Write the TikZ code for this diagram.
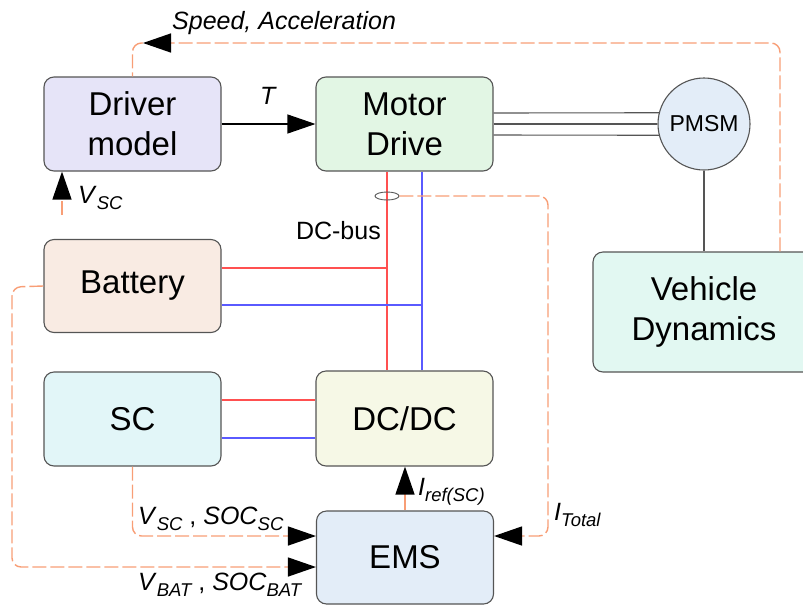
\documentclass[tikz,border=0pt]{standalone}
\usepackage{fontspec}
\setmainfont{Liberation Sans}
\usetikzlibrary{arrows.meta,shapes.geometric}

\definecolor{drvfill}{RGB}{230,228,248}
\definecolor{motfill}{RGB}{226,246,228}
\definecolor{batfill}{RGB}{249,235,227}
\definecolor{scfill}{RGB}{226,246,248}
\definecolor{dcfill}{RGB}{246,248,230}
\definecolor{emsfill}{RGB}{227,237,248}
\definecolor{vehfill}{RGB}{226,248,242}
\definecolor{edgegray}{RGB}{85,85,85}
\definecolor{sigorange}{RGB}{248,158,118}
\definecolor{busred}{RGB}{255,80,80}
\definecolor{busblue}{RGB}{90,90,255}

\newcommand{\qsub}[2]{\textit{#1}\raisebox{-6pt}{\fontsize{18.5}{18.5}\selectfont\itshape #2}}

\begin{document}
\begin{tikzpicture}[x=1pt,y=-1pt,
  block/.style={draw=edgegray, line width=1.1pt, rounded corners=10pt, align=center, minimum width=177pt, minimum height=94pt, font=\fontsize{33}{40}\selectfont},
  lbl/.style={inner sep=0pt, font=\fontsize{25}{29}\selectfont},
  sig/.style={draw=sigorange, line width=1.4pt, dash pattern=on 14pt off 4pt, rounded corners=9pt},
  bigtip/.style={-{Triangle[length=28pt,width=19pt,color=black]}},
  wire/.style={draw=edgegray, line width=1.1pt},
  pline/.style={draw=busred, line width=1.1pt},
  nline/.style={draw=busblue, line width=1.1pt}]
\useasboundingbox (0,0) rectangle (803,606);
\node[block, fill=drvfill] (drv) at (132.5,124) {Driver\\ model};
\node[block, fill=motfill] (mot) at (404.5,124) {Motor\\ Drive};
\node[block, fill=batfill, minimum height=93pt] (bat) at (132.5,286) {Battery};
\node[block, fill=scfill] (sc) at (132.5,419) {SC};
\node[block, fill=dcfill, minimum height=95pt] (dcdc) at (404.5,418.5) {DC/DC};
\node[block, fill=emsfill, minimum height=93pt] (ems) at (405,557.5) {EMS};
\node[circle, draw=edgegray, line width=1.1pt, fill=emsfill, minimum size=92pt, inner sep=0pt, font=\fontsize{23}{26}\selectfont] (pmsm) at (704,124) {PMSM};
\node[block, fill=vehfill, minimum width=222pt, minimum height=120pt] (veh) at (704,312) {Vehicle\\ Dynamics};

\coordinate (busr) at ([xshift=-17.5pt]mot.south);
\coordinate (busb) at ([xshift=17.5pt]mot.south);
\coordinate (spd) at (143,43);
\coordinate (itop) at (548,196);
\coordinate (bleft) at (12,287);
\coordinate (vin) at (62,215);

\draw[bigtip, line width=1.1pt] (drv) -- (mot) node[lbl, midway, above=19pt] (tlbl) {\textit{T}};
\foreach \a/\d in {166/11,180/0,194/-11}
  \draw[wire] ([yshift=\d pt]mot.east) -- (pmsm.\a);
\draw[wire] (pmsm) -- (veh);

\draw[pline] (busr) -- (busr |- dcdc.north);
\draw[nline] (busb) -- (busb |- dcdc.north);
\draw[pline] ([yshift=18pt]bat.east) -- ([yshift=18pt]bat.east -| busr);
\draw[nline] ([yshift=-19pt]bat.east) -- ([yshift=-19pt]bat.east -| busb);
\draw[pline] ([yshift=19pt]sc.east) -- ([yshift=19pt]sc.east -| dcdc.west);
\draw[nline] ([yshift=-19pt]sc.east) -- ([yshift=-19pt]sc.east -| dcdc.west);
\node[ellipse, draw=edgegray, line width=0.9pt, minimum width=24pt, minimum height=8pt, inner sep=0pt] (sens) at (387,196) {};
\node[lbl, anchor=east] (buslbl) at (381,231) {DC-bus};

\draw[sig, bigtip] ([xshift=76pt]veh.north) |- (spd);
\draw[sig] (spd) -| (drv.north);
\node[lbl, anchor=south west] (spdlbl) at (172,35) {\itshape Speed, Acceleration};
\draw[sig, bigtip] (vin) -- (vin |- drv.south);
\node[lbl, anchor=base west] (vinlbl) at (78,203) {\qsub{V}{SC}};

\draw[sig, bigtip] (sens.east) -- (itop) |- ([yshift=21.5pt]ems.east);
\node[lbl, anchor=base west] (itlbl) at (554,520) {\qsub{I}{Total}};
\draw[sig, bigtip] (sc.south) |- ([yshift=21.5pt]ems.west);
\node[lbl, anchor=base west] (vsclbl) at (138,524) {\qsub{V}{SC} , \qsub{SOC}{SC}};
\draw[sig, bigtip] (bat.west) -- (bleft) |- ([yshift=-9.5pt]ems.west);
\node[lbl, anchor=base west] (vbatlbl) at (138,590) {\qsub{V}{BAT} , \qsub{SOC}{BAT}};
\draw[draw=sigorange, line width=1.4pt, bigtip] (ems.north) -- (ems.north |- dcdc.south);
\node[lbl, anchor=base west] (ireflbl) at (418,495) {\qsub{I}{ref(SC)}};
\end{tikzpicture}
\end{document}
